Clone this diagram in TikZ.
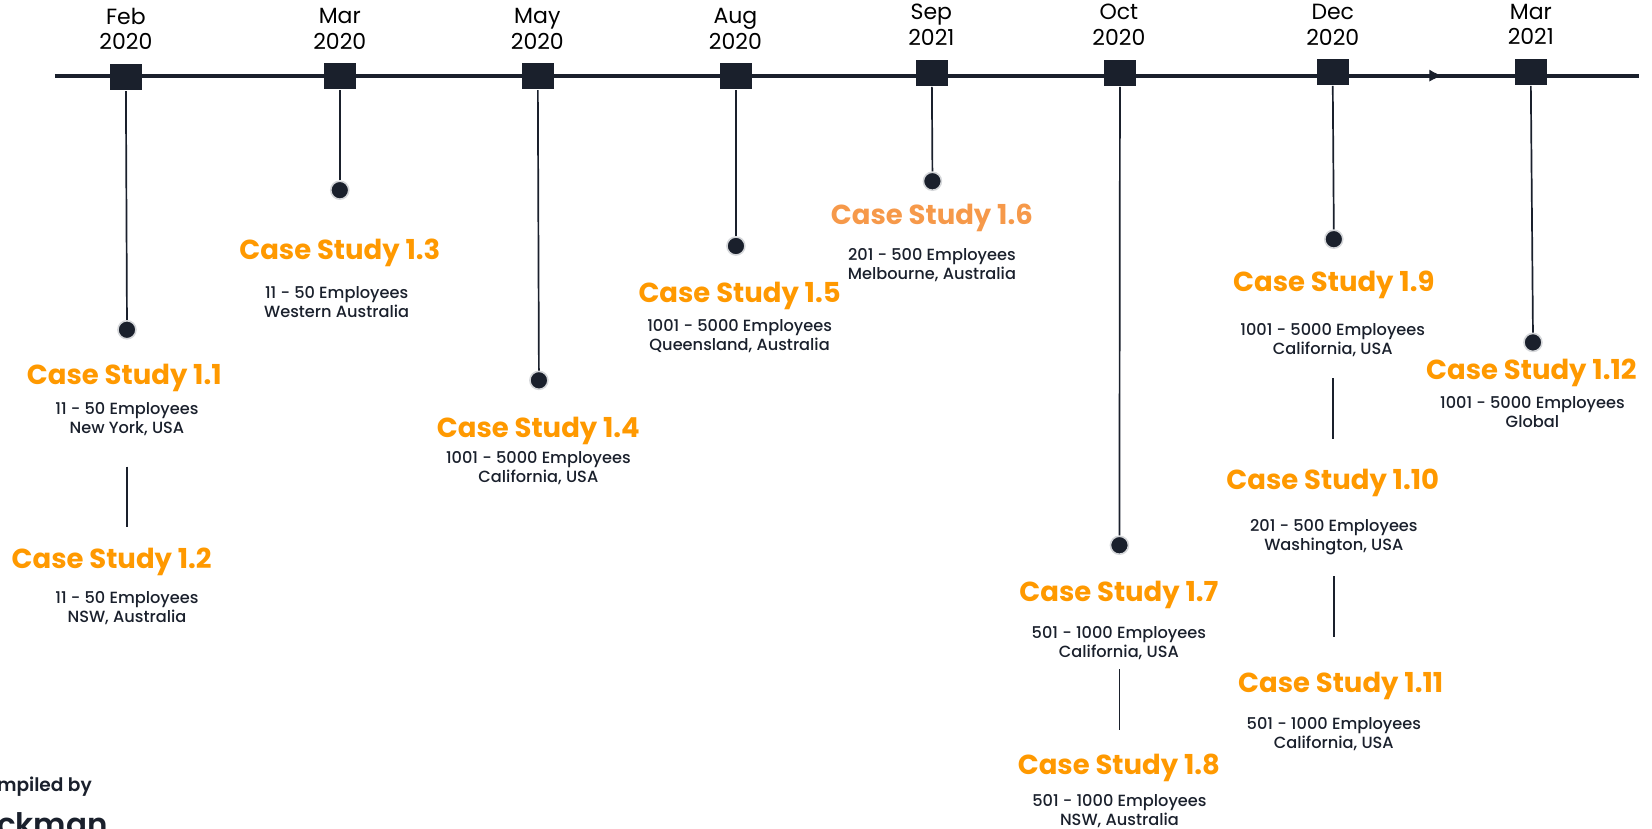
\documentclass[tikz,border=0pt]{standalone}
\usepackage{fontspec}
\setmainfont{Poppins}
\newfontfamily\medf{Poppins Medium}
\newfontfamily\semf{Poppins SemiBold}
\usetikzlibrary{arrows.meta,decorations.markings}
\definecolor{ink}{HTML}{1A202C}
\definecolor{amber}{HTML}{FF9900}
\definecolor{amberlight}{HTML}{F6994A}
\definecolor{halo}{HTML}{D5D7DA}
\tikzset{
  x=1.0536pt,y=-1.0536pt,
  sq/.style={fill=ink,draw=none,minimum width=32pt,minimum height=26pt,inner sep=0pt},
  dot/.style={circle,fill=ink,draw=halo,line width=1.6pt,minimum size=18pt,inner sep=0pt},
  stem/.style={draw=ink,line width=1.7pt},
  date/.style={align=center,font=\fontsize{22}{25.2}\selectfont,text=black,inner sep=0pt},
  ttl/.style={font=\fontsize{27.5}{30}\selectfont\bfseries,text=amber,inner sep=0pt},
  info/.style={align=center,font=\medf\fontsize{16.2}{19}\selectfont,text=ink,inner sep=0pt},
}
\begin{document}
\begin{tikzpicture}
\useasboundingbox (0,0) rectangle (1568,786);
\clip (0,0) rectangle (1568,786);
% axis
\coordinate (axL) at (52,72);
\coordinate (axR) at (1556,72);
\coordinate (axM) at (1369,72);
\draw[draw=ink,line width=3.6pt] (axL) -- (axR);
\draw[draw=ink,line width=1pt,-{Latex[length=13pt,width=12pt]}] (1310,71) -- (axM);
% squares
\node[sq] (s1) at (119.5,73) {};
\node[sq] (s2) at (322.5,72) {};
\node[sq] (s3) at (510.5,72) {};
\node[sq] (s4) at (698.5,72) {};
\node[sq] (s5) at (884.5,69) {};
\node[sq] (s6) at (1063,69) {};
\node[sq] (s7) at (1265,68) {};
\node[sq] (s8) at (1453,68) {};
% dates
\node[date] (d1) at (119.5,27.5) {Feb\\2020};
\node[date] (d2) at (322.5,27.5) {Mar\\2020};
\node[date] (d3) at (510,27.5) {May\\2020};
\node[date] (d4) at (698,27.5) {Aug\\2020};
\node[date] (d5) at (884,23.5) {Sep\\2021};
\node[date] (d6) at (1062,23.5) {Oct\\2020};
\node[date] (d7) at (1265,23.5) {Dec\\2020};
\node[date] (d8) at (1453,23.5) {Mar\\2021};
% dots
\node[dot] (p1) at (120.5,313) {};
\node[dot] (p2) at (322.5,180.5) {};
\node[dot] (p3) at (511.5,361) {};
\node[dot] (p4) at (698.5,233.5) {};
\node[dot] (p5) at (885,172) {};
\node[dot] (p6) at (1062.5,517.5) {};
\node[dot] (p7) at (1266,227) {};
\node[dot] (p8) at (1455,325) {};
% stems
\foreach \i in {1,...,8} \draw[stem] ([yshift=-1pt]s\i.south) -- (p\i.north);
% free links
\coordinate (a1) at (120.5,443); \coordinate (b1) at (120.5,500);
\coordinate (a2) at (1265,359); \coordinate (b2) at (1265,417);
\coordinate (a3) at (1266,547); \coordinate (b3) at (1266,605);
\coordinate (a4) at (1062.5,635); \coordinate (b4) at (1062.5,693);
\foreach \i in {1,...,4} \draw[stem] (a\i) -- (b\i);
% titles
\node[ttl] (t1) at (118,358.5) {Case Study 1.1};
\node[ttl] (t2) at (106,533.5) {Case Study 1.2};
\node[ttl] (t3) at (322.5,240) {Case Study 1.3};
\node[ttl] (t4) at (511,409) {Case Study 1.4};
\node[ttl] (t5) at (702,280.5) {Case Study 1.5};
\node[ttl,text=amberlight] (t6) at (884.5,206.5) {Case Study 1.6};
\node[ttl] (t7) at (1062,564.5) {Case Study 1.7};
\node[ttl] (t8) at (1062,728.5) {Case Study 1.8};
\node[ttl] (t9) at (1266,270) {Case Study 1.9};
\node[ttl] (t10) at (1265,458) {Case Study 1.10};
\node[ttl] (t11) at (1272.5,651) {Case Study 1.11};
\node[ttl] (t12) at (1453.5,353.5) {Case Study 1.12};
% info
\node[info] (i1) at (120.5,397.5) {11 - 50 Employees\\New York, USA};
\node[info] (i2) at (120.5,577) {11 - 50 Employees\\NSW, Australia};
\node[info] (i3) at (319.5,287) {11 - 50 Employees\\Western Australia};
\node[info] (i4) at (511,444) {1001 - 5000 Employees\\California, USA};
\node[info] (i5) at (702,319) {1001 - 5000 Employees\\Queensland, Australia};
\node[info] (i6) at (884.5,251.5) {201 - 500 Employees\\Melbourne, Australia};
\node[info] (i7) at (1062,610) {501 - 1000 Employees\\California, USA};
\node[info] (i8) at (1062.5,769.5) {501 - 1000 Employees\\NSW, Australia};
\node[info] (i9) at (1265,322.5) {1001 - 5000 Employees\\California, USA};
\node[info] (i10) at (1266,510) {201 - 500 Employees\\Washington, USA};
\node[info] (i11) at (1266,696.5) {501 - 1000 Employees\\California, USA};
\node[info] (i12) at (1454.5,391.5) {1001 - 5000 Employees\\Global};
% credit
\node[anchor=west,inner sep=0pt,font=\semf\fontsize{18.6}{21}\selectfont,text=ink] (c1) at (-3,747) {mpiled by};
\node[anchor=west,inner sep=0pt,font=\semf\fontsize{31}{33}\selectfont,text=ink] (c2) at (-3,782) {ckman};
\end{tikzpicture}
\end{document}
